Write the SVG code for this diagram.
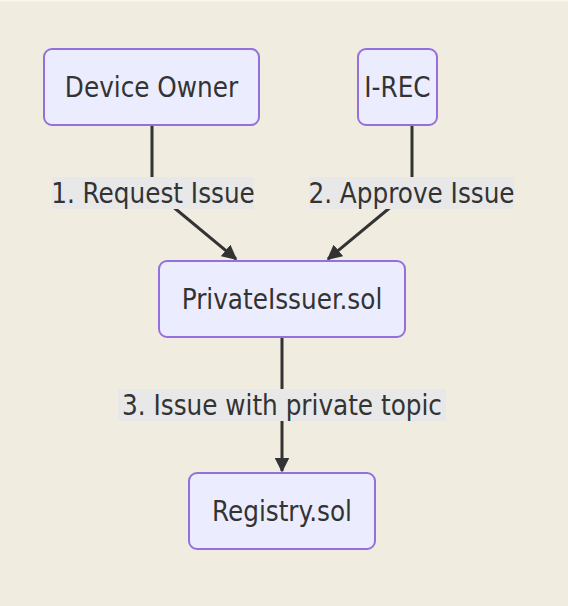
<svg xmlns="http://www.w3.org/2000/svg" width="568" height="606" viewBox="0 0 568 606">
<style>
.node rect{fill:#ECECFF;stroke:#9370DB;stroke-width:2}
.node text,.lbl text{font-family:"DejaVu Sans Condensed","DejaVu Sans",sans-serif;font-stretch:condensed;font-size:27.5px;fill:#333;text-anchor:middle;dominant-baseline:central}
.edge{fill:none;stroke:#333;stroke-width:3}
.lbl rect{fill:#e8e8e8}
</style>
<defs>
<marker id="ah" viewBox="0 0 10 10" refX="9" refY="5" markerWidth="5" markerHeight="5" markerUnits="strokeWidth" orient="auto">
<path d="M0,0 L10,5 L0,10 z" fill="#333"/>
</marker>
</defs>
<rect x="0" y="0" width="568" height="606" fill="#f1ece0"/>
<rect x="0" y="0" width="568" height="1.5" fill="#fbf6e8"/>
<g id="connectors">
<path class="edge" d="M152,125 L152,180 Q152,190 160,196 L236,259" marker-end="url(#ah)"/>
<path class="edge" d="M412,125 L412,180 Q412,190 404,196 L328,259" marker-end="url(#ah)"/>
<path class="edge" d="M282,337 L282,471" marker-end="url(#ah)"/>
<g class="lbl">
<rect x="52" y="177" width="202" height="32"/>
<text x="153" y="193">1. Request Issue</text>
<rect x="309" y="177" width="205" height="32"/>
<text x="411.5" y="193">2. Approve Issue</text>
<rect x="118" y="389" width="328" height="32"/>
<text x="282" y="405">3. Issue with private topic</text>
</g>
</g>
<g id="device-owner" class="node">
<rect x="44" y="49" width="215" height="76" rx="8"/>
<text x="151.5" y="87">Device Owner</text>
</g>
<g id="i-rec" class="node">
<rect x="358" y="49" width="79" height="76" rx="8"/>
<text x="397.5" y="87">I-REC</text>
</g>
<g id="private-issuer" class="node">
<rect x="159" y="261" width="246" height="76" rx="8"/>
<text x="282" y="299">PrivateIssuer.sol</text>
</g>
<g id="registry" class="node">
<rect x="189" y="473" width="186" height="76" rx="8"/>
<text x="282" y="511">Registry.sol</text>
</g>
</svg>
